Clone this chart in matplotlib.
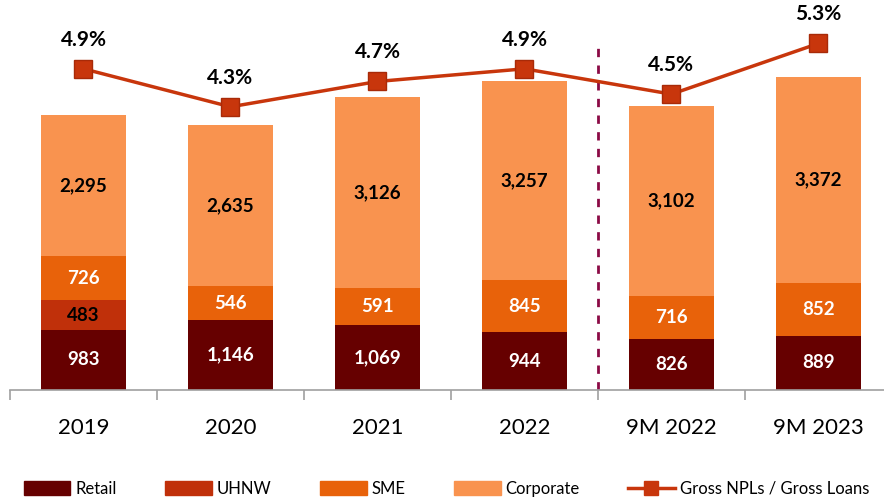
import matplotlib
matplotlib.use("Agg")
import matplotlib.pyplot as plt
from matplotlib.lines import Line2D
from matplotlib.patches import Patch
import numpy as np

plt.rcParams['font.family'] = ['Lato', 'DejaVu Sans']

categories = ['2019', '2020', '2021', '2022', '9M 2022', '9M 2023']
retail = [983, 1146, 1069, 944, 826, 889]
uhnw = [483, 0, 0, 0, 0, 0]
sme = [726, 546, 591, 845, 716, 852]
corporate = [2295, 2635, 3126, 3257, 3102, 3372]
npl_ratio = [4.9, 4.3, 4.7, 4.9, 4.5, 5.3]

c_retail = '#660000'
c_uhnw = '#C0300A'
c_sme = '#E8620A'
c_corp = '#F9934F'
c_line = '#C8360C'

fig = plt.figure(figsize=(8.84, 4.97), dpi=100)
ax = fig.add_axes([0.0113, 0.2153, 0.9977, 0.775])
x = np.arange(len(categories))
w = 0.58

b0 = np.zeros(len(x))
series = [(retail, c_retail, 'white'), (uhnw, c_uhnw, 'black'),
          (sme, c_sme, 'white'), (corporate, c_corp, 'black')]
for vals, col, tcol in series:
    vals = np.array(vals, dtype=float)
    ax.bar(x, vals, w, bottom=b0, color=col, edgecolor='none', zorder=2)
    for xi, v, b in zip(x, vals, b0):
        if v > 0:
            ax.text(xi, b + v / 2, f'{int(v):,}', ha='center', va='center',
                    fontsize=13.5, fontweight='bold', color=tcol, zorder=3)
    b0 = b0 + vals

ax.set_xlim(-0.5, 5.5)
ax.set_ylim(0, 6291)
for s in ['top', 'right', 'left']:
    ax.spines[s].set_visible(False)
ax.spines['bottom'].set_color('#A0A0A0')
ax.spines['bottom'].set_linewidth(1.2)
ax.set_yticks([])
ax.set_xticks(x)
ax.set_xticklabels(categories, fontsize=16)
ax.tick_params(axis='x', length=0, pad=20)
ax.set_xticks(np.arange(-0.5, 5.6, 1), minor=True)
ax.tick_params(axis='x', which='minor', length=7, width=1.2, color='#A0A0A0')

ax.axvline(3.5, ymin=0, ymax=0.905, color='#8B0A45', linestyle=(0, (3, 3)),
           linewidth=2, zorder=1)

ax2 = ax.twinx()
ax2.set_ylim(-0.17, 5.91)
ax2.plot(x, npl_ratio, color=c_line, linewidth=2.5, marker='s', markersize=13,
         markerfacecolor=c_line, markeredgecolor='#A82A08', zorder=4)
for xi, p in zip(x, npl_ratio):
    ax2.text(xi, p + 0.3, f'{p:.1f}%', ha='center', va='bottom',
             fontsize=15, fontweight='bold', color='black')
ax2.axis('off')

handles = [Patch(color=c_retail, label='Retail'),
           Patch(color=c_uhnw, label='UHNW'),
           Patch(color=c_sme, label='SME'),
           Patch(color=c_corp, label='Corporate'),
           Line2D([0], [0], color=c_line, linewidth=2.5, marker='s',
                  markersize=10, label='Gross NPLs / Gross Loans')]
fig.legend(handles=handles, loc='lower center', bbox_to_anchor=(0.505, -0.03),
           ncol=5, frameon=False, fontsize=12, handlelength=2.8,
           handleheight=0.9, columnspacing=2.9, handletextpad=0.3)

fig.savefig('out.png', dpi=100)
